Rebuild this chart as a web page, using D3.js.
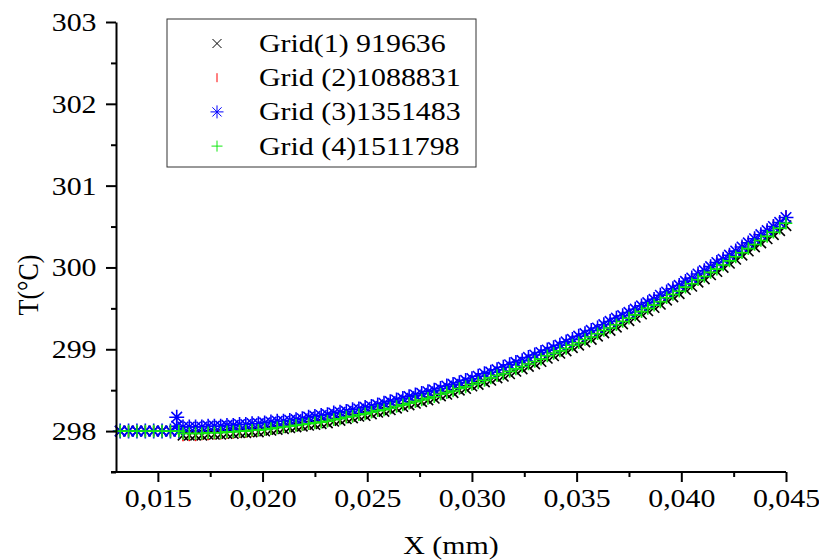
<!DOCTYPE html>
<html>
<head>
<meta charset="utf-8">
<script src="https://cdn.jsdelivr.net/npm/d3@7"></script>
<style>
  body { margin: 0; background: #fff; }
  svg { display: block; font-family: "Liberation Serif", "Times New Roman", serif; }
</style>
</head>
<body>
<div id="chart"></div>
<script>
// flat part near the inlet (all grids sit at 298)
var xFlat = [0.0132, 0.0136, 0.0140, 0.0144, 0.0148, 0.0152, 0.0156, 0.0160]
var tFlat = [298, 298, 298, 298, 298, 298, 298, 298]

// the odd blue points of grid 3 at x ~ 0.016
var xSpike = [0.0159, 0.0159]
var tSpike = [298.17, 298.06]

var xCurve = [
  0.0162, 0.0165, 0.0168, 0.0171, 0.0174, 0.0177, 0.0180, 0.0183, 0.0186, 0.0189,
  0.0192, 0.0195, 0.0198, 0.0201, 0.0204, 0.0207, 0.0210, 0.0213, 0.0216, 0.0219,
  0.0222, 0.0225, 0.0228, 0.0231, 0.0234, 0.0237, 0.0240, 0.0243, 0.0246, 0.0249,
  0.0252, 0.0255, 0.0258, 0.0261, 0.0264, 0.0267, 0.0270, 0.0273, 0.0276, 0.0279,
  0.0282, 0.0285, 0.0288, 0.0291, 0.0294, 0.0297, 0.0300, 0.0303, 0.0306, 0.0309,
  0.0312, 0.0315, 0.0318, 0.0321, 0.0324, 0.0327, 0.0330, 0.0333, 0.0336, 0.0339,
  0.0342, 0.0345, 0.0348, 0.0351, 0.0354, 0.0357, 0.0360, 0.0363, 0.0366, 0.0369,
  0.0372, 0.0375, 0.0378, 0.0381, 0.0384, 0.0387, 0.0390, 0.0393, 0.0396, 0.0399,
  0.0402, 0.0405, 0.0408, 0.0411, 0.0414, 0.0417, 0.0420, 0.0423, 0.0426, 0.0429,
  0.0432, 0.0435, 0.0438, 0.0441, 0.0444, 0.0447, 0.0450]

var tGrid1 = [
  297.95, 297.95, 297.95, 297.95, 297.96, 297.96, 297.96, 297.97, 297.97, 297.98,
  297.98, 297.99, 297.99, 298.00, 298.01, 298.02, 298.03, 298.04, 298.05, 298.06,
  298.07, 298.08, 298.09, 298.10, 298.12, 298.13, 298.15, 298.16, 298.18, 298.19,
  298.21, 298.23, 298.24, 298.26, 298.28, 298.30, 298.32, 298.34, 298.36, 298.38,
  298.40, 298.43, 298.45, 298.47, 298.50, 298.52, 298.55, 298.57, 298.60, 298.62,
  298.65, 298.67, 298.70, 298.73, 298.76, 298.79, 298.82, 298.85, 298.89, 298.92,
  298.95, 298.98, 299.02, 299.05, 299.09, 299.12, 299.16, 299.20, 299.23, 299.27,
  299.31, 299.35, 299.39, 299.43, 299.47, 299.51, 299.55, 299.60, 299.64, 299.68,
  299.73, 299.77, 299.82, 299.86, 299.91, 299.95, 300.00, 300.05, 300.10, 300.15,
  300.20, 300.25, 300.30, 300.35, 300.40, 300.45, 300.51]

var tGrid2 = [
  297.94, 297.94, 297.94, 297.95, 297.95, 297.96, 297.96, 297.97, 297.97, 297.98,
  297.98, 297.99, 298.00, 298.01, 298.02, 298.03, 298.04, 298.05, 298.06, 298.07,
  298.08, 298.10, 298.11, 298.12, 298.14, 298.15, 298.17, 298.18, 298.20, 298.22,
  298.24, 298.25, 298.27, 298.29, 298.31, 298.33, 298.35, 298.38, 298.40, 298.42,
  298.44, 298.47, 298.49, 298.52, 298.54, 298.57, 298.60, 298.62, 298.65, 298.68,
  298.71, 298.74, 298.77, 298.80, 298.83, 298.86, 298.89, 298.92, 298.96, 298.99,
  299.03, 299.06, 299.10, 299.13, 299.17, 299.21, 299.24, 299.28, 299.32, 299.36,
  299.40, 299.44, 299.48, 299.52, 299.56, 299.61, 299.65, 299.69, 299.74, 299.78,
  299.83, 299.87, 299.92, 299.97, 300.01, 300.06, 300.11, 300.16, 300.21, 300.26,
  300.31, 300.36, 300.41, 300.46, 300.52, 300.57, 300.63]

var tGrid3 = [
  298.05, 298.05, 298.05, 298.05, 298.06, 298.06, 298.06, 298.07, 298.07, 298.08,
  298.08, 298.09, 298.09, 298.10, 298.11, 298.12, 298.12, 298.13, 298.14, 298.15,
  298.17, 298.18, 298.19, 298.20, 298.22, 298.23, 298.24, 298.26, 298.27, 298.29,
  298.30, 298.32, 298.34, 298.36, 298.38, 298.40, 298.42, 298.44, 298.46, 298.48,
  298.50, 298.52, 298.55, 298.57, 298.59, 298.62, 298.64, 298.67, 298.70, 298.72,
  298.75, 298.78, 298.81, 298.84, 298.86, 298.90, 298.93, 298.96, 298.99, 299.02,
  299.05, 299.09, 299.12, 299.16, 299.19, 299.23, 299.26, 299.30, 299.34, 299.38,
  299.41, 299.45, 299.49, 299.53, 299.57, 299.61, 299.66, 299.70, 299.74, 299.78,
  299.83, 299.87, 299.92, 299.96, 300.01, 300.06, 300.10, 300.15, 300.20, 300.25,
  300.30, 300.35, 300.40, 300.45, 300.50, 300.55, 300.61]

var tGrid4 = [
  297.97, 297.97, 297.97, 297.97, 297.98, 297.98, 297.98, 297.99, 297.99, 298.00,
  298.00, 298.01, 298.01, 298.02, 298.03, 298.04, 298.05, 298.06, 298.07, 298.08,
  298.09, 298.10, 298.11, 298.12, 298.14, 298.15, 298.17, 298.18, 298.20, 298.21,
  298.23, 298.25, 298.26, 298.28, 298.30, 298.32, 298.34, 298.36, 298.38, 298.40,
  298.42, 298.45, 298.47, 298.49, 298.52, 298.54, 298.57, 298.59, 298.62, 298.65,
  298.68, 298.70, 298.73, 298.76, 298.79, 298.82, 298.85, 298.88, 298.92, 298.95,
  298.98, 299.01, 299.05, 299.08, 299.12, 299.15, 299.19, 299.23, 299.26, 299.30,
  299.34, 299.38, 299.42, 299.46, 299.50, 299.54, 299.58, 299.63, 299.67, 299.71,
  299.76, 299.80, 299.85, 299.89, 299.94, 299.98, 300.03, 300.08, 300.13, 300.18,
  300.23, 300.28, 300.33, 300.38, 300.43, 300.48, 300.54]

var seriesNames = ["Grid(1) 919636", "Grid (2)1088831", "Grid (3)1351483", "Grid (4)1511798"]
var seriesColors = ["#000000", "#ff0000", "#0000ff", "#10e810"]
var seriesShapes = ["cross", "tick", "star", "plus"]

var xTicks = [0.015, 0.020, 0.025, 0.030, 0.035, 0.040, 0.045]
var xMinor = [0.0175, 0.0225, 0.0275, 0.0325, 0.0375, 0.0425]
var yTicks = [298, 299, 300, 301, 302, 303]
var yMinor = [297.5, 298.5, 299.5, 300.5, 301.5, 302.5]

var width = 819, height = 560
var mLeft = 116, mRight = 786, mTop = 22, mBottom = 472
var sx = 1.15   // glyphs in the picture are a bit wider than tall
var fs = 26

var svg = d3.select("#chart").append("svg")
  .attr("width", width)
  .attr("height", height)

var x = d3.scaleLinear().domain([0.013, 0.045]).range([mLeft, mRight])
var y = d3.scaleLinear().domain([297.5, 303]).range([mBottom, mTop])

// k scales the marker (1 in the legend, a bit bigger in the plot)
function shapePath(s, k) {
  var a = 4.5 * k, b = 6.5 * k, c = 4.6 * k, p = 5.5 * k
  if (s == "cross") return "M" + -a + "," + -a + "L" + a + "," + a + "M" + -a + "," + a + "L" + a + "," + -a
  if (s == "tick") return "M0," + -a + "L0," + a
  if (s == "star") return "M0," + -b + "L0," + b + "M" + -b + ",0L" + b + ",0M" + -c + "," + -c + "L" + c + "," + c + "M" + -c + "," + c + "L" + c + "," + -c
  return "M" + -p + ",0L" + p + ",0M0," + -p + "L0," + p
}

function points(xs, ts) {
  return xs.map(function(v, i) { return [v, ts[i]] })
}

var curves = [tGrid1, tGrid2, tGrid3, tGrid4]
var data = curves.map(function(t, i) {
  var pts = points(xFlat, tFlat).concat(points(xCurve, t))
  if (i == 2) pts = pts.concat(points(xSpike, tSpike))
  return pts
})

//MARKERS

data.forEach(function(pts, i) {
  svg.append("g")
    .selectAll("path")
    .data(pts)
    .enter()
    .append("path")
      .attr("transform", function(d) { return "translate(" + x(d[0]) + "," + y(d[1]) + ")" })
      .attr("d", shapePath(seriesShapes[i], 1.15))
      .attr("fill", "none")
      .attr("stroke", seriesColors[i])
      .attr("stroke-width", 1.6)
})

//AXES

var fmt = function(d) { return d3.format(".3f")(d).replace(".", ",") }

var gx = svg.append("g")
  .attr("transform", "translate(0," + mBottom + ")")
  .call(d3.axisBottom(x).tickValues(xTicks).tickFormat(fmt).tickSize(10).tickSizeOuter(0))
  .attr("font-family", null).attr("font-size", null)
gx.select(".domain").attr("stroke-width", 2).attr("d", "M111,0H" + mRight)
gx.selectAll(".tick line").attr("stroke-width", 2)
gx.selectAll(".tick text")
  .attr("y", 35).attr("dy", null)
  .attr("transform", "scale(" + sx + ",1)")
  .attr("font-size", fs).attr("fill", "#000")

svg.append("g")
  .attr("transform", "translate(0," + mBottom + ")")
  .call(d3.axisBottom(x).tickValues(xMinor).tickFormat("").tickSize(5).tickSizeOuter(0))
  .call(function(g) { g.select(".domain").remove() })
  .selectAll(".tick line").attr("stroke-width", 2)

var gy = svg.append("g")
  .attr("transform", "translate(" + mLeft + ",0)")
  .call(d3.axisLeft(y).tickValues(yTicks).tickFormat(d3.format("d")).tickSize(10).tickSizeOuter(0))
  .attr("font-family", null).attr("font-size", null)
gy.select(".domain").attr("stroke-width", 2)
gy.selectAll(".tick line").attr("stroke-width", 2)
gy.selectAll(".tick text")
  .attr("x", -19.5 / sx).attr("y", 8.5).attr("dy", null)
  .attr("transform", "scale(" + sx + ",1)")
  .attr("font-size", fs).attr("fill", "#000")

svg.append("g")
  .attr("transform", "translate(" + mLeft + ",0)")
  .call(d3.axisLeft(y).tickValues(yMinor).tickFormat("").tickSize(5).tickSizeOuter(0))
  .call(function(g) { g.select(".domain").remove() })
  .selectAll(".tick line").attr("stroke-width", 2)

svg.append("text")
  .attr("transform", "translate(" + (mLeft + mRight) / 2 + ",554) scale(" + sx + ",1)")
  .attr("text-anchor", "middle")
  .attr("font-size", fs)
  .text("X (mm)")

svg.append("text")
  .attr("transform", "translate(28,285) rotate(-90) scale(1," + sx + ")")
  .attr("text-anchor", "middle")
  .attr("dy", "0.35em")
  .attr("font-size", fs)
  .text("T(°C)")

//LEGEND

var legend = svg.append("g")
legend.append("rect")
  .attr("x", 167).attr("y", 19)
  .attr("width", 309).attr("height", 148)
  .attr("fill", "#fff")
  .attr("stroke", "#333")
  .attr("stroke-width", 1)

seriesNames.forEach(function(name, i) {
  var base = 52 + i * 34.2
  legend.append("path")
    .attr("transform", "translate(217," + (base - 8.5) + ")")
    .attr("d", shapePath(seriesShapes[i], 1))
    .attr("fill", "none")
    .attr("stroke", seriesColors[i])
    .attr("stroke-width", 1)
  legend.append("text")
    .attr("transform", "translate(259," + base + ") scale(" + sx + ",1)")
    .attr("font-size", fs)
    .text(name)
})
</script>
</body>
</html>
